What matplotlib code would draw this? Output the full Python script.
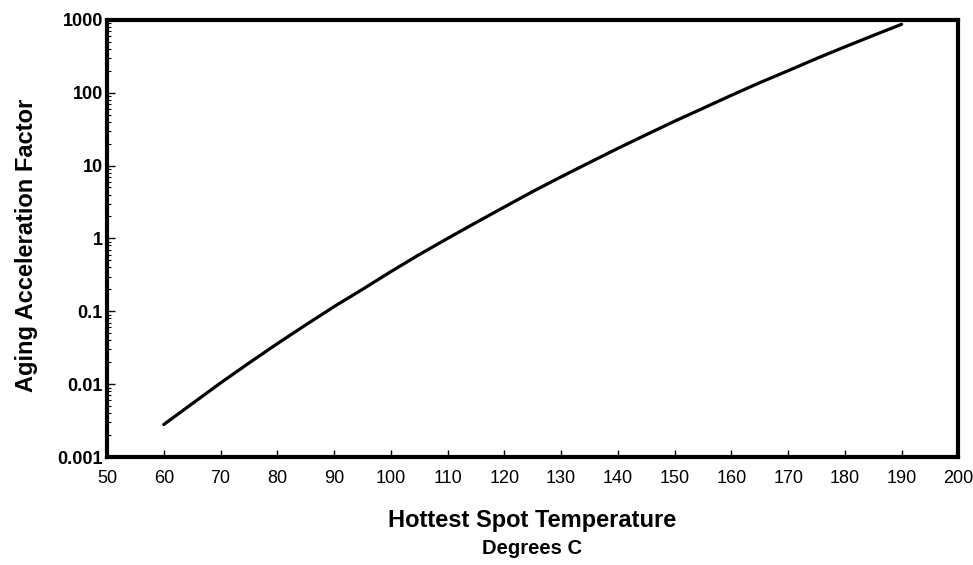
import numpy as np
import matplotlib
matplotlib.use("Agg")
import matplotlib.pyplot as plt
from matplotlib.ticker import LogLocator, FixedLocator, NullFormatter

plt.rcParams["font.family"] = ["Liberation Sans", "DejaVu Sans"]

# hottest spot temperature (deg C) and aging acceleration factor
temp_c = [60, 65, 70, 75, 80, 85, 90, 95, 100, 105, 110, 115, 120, 125,
          130, 135, 140, 145, 150, 155, 160, 165, 170, 175, 180, 185, 190]
aging_factor = [0.0028, 0.0054, 0.0104, 0.0195, 0.036, 0.065, 0.116, 0.20,
                0.35, 0.60, 1.0, 1.65, 2.7, 4.4, 7.0, 11.0, 17.2, 26.5,
                40.6, 61, 92, 137, 200, 294, 425, 609, 868]

x_ticks = list(range(50, 201, 10))
y_ticks = [0.001, 0.01, 0.1, 1, 10, 100, 1000]
y_tick_labels = ["0.001", "0.01", "0.1", "1", "10", "100", "1000"]

fig = plt.figure(figsize=(9.73, 5.65), dpi=100)
ax = fig.add_axes([0.110, 0.191, 0.875, 0.774])

ax.plot(temp_c, aging_factor, color="black", linewidth=2.3,
        solid_capstyle="round")

ax.set_yscale("log")
ax.set_xlim(50, 200)
ax.set_ylim(0.001, 1000)

ax.xaxis.set_major_locator(FixedLocator(x_ticks))
ax.set_xticklabels([str(t) for t in x_ticks], fontsize=13)
ax.tick_params(axis="x", direction="in", length=5, width=1, pad=9,
               top=False, bottom=True)

ax.set_yticks(y_ticks)
ax.set_yticklabels(y_tick_labels, fontsize=13, fontweight="bold")
ax.yaxis.set_minor_locator(LogLocator(base=10, subs=np.arange(2, 10)))
ax.yaxis.set_minor_formatter(NullFormatter())
ax.tick_params(axis="y", which="major", direction="in", length=6, width=1,
               pad=3, right=False)
ax.tick_params(axis="y", which="minor", direction="in", length=3, width=0.8,
               right=False)

for side in ["left", "right", "top", "bottom"]:
    ax.spines[side].set_linewidth(3)

fig.text(27 / 973, 1 - 245 / 565, "Aging Acceleration Factor", rotation=90,
         ha="center", va="center", fontsize=17, fontweight="bold")
fig.text(532 / 973, 1 - 520 / 565, "Hottest Spot Temperature",
         ha="center", va="center", fontsize=17, fontweight="bold")
fig.text(532 / 973, 1 - 549 / 565, "Degrees C",
         ha="center", va="center", fontsize=14.5, fontweight="bold")

fig.savefig("out.png", dpi=100)
